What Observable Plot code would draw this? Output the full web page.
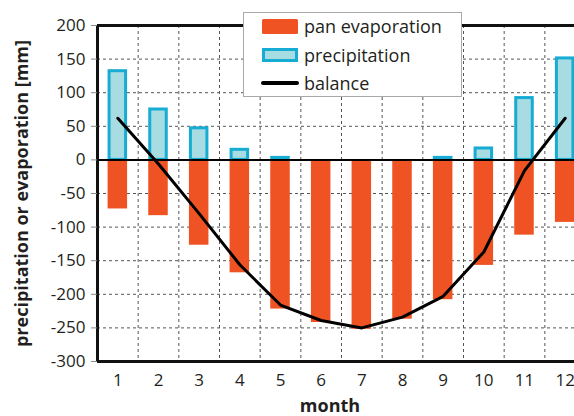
<!DOCTYPE html>
<html>
<head>
<meta charset="utf-8">
<script src="https://cdn.jsdelivr.net/npm/d3@7"></script>
<script src="https://cdn.jsdelivr.net/npm/@observablehq/plot@0.6"></script>
<style>
  html, body { margin: 0; padding: 0; background: #fff; overflow: hidden; }
  #wrap { position: relative; width: 574px; height: 416px; }
  #legend { position: absolute; left: 0; top: 0; }
</style>
</head>
<body>
<div id="wrap"></div>
<script>
const months = [1, 2, 3, 4, 5, 6, 7, 8, 9, 10, 11, 12];
const evaporation = [73, 83, 127, 168, 222, 242, 252, 237, 208, 157, 112, 93];
const precipitation = [132, 75, 47, 15, 3, 0, 0, 0, 3, 17, 92, 151];
const balance = [62, -6, -80, -156, -216, -239, -250, -234, -203, -137, -16, 62];
const yTicks = [-300, -250, -200, -150, -100, -50, 0, 50, 100, 150, 200];
const legendLabels = ["pan evaporation", "precipitation", "balance"];

const ORANGE = "#f05323";
const CYAN_FILL = "#a7dce3";
const CYAN_STROKE = "#17acd3";
const TEXT = "#231f20";

const data = months.map((m, i) => ({
  month: m,
  evap: -evaporation[i],
  precip: precipitation[i],
  balance: balance[i]
}));
const half = 0.24;
const gridX = months.slice(0, -1).map(m => m + 0.5);

const chart = Plot.plot({
  width: 574,
  height: 416,
  marginLeft: 97,
  marginRight: 0,
  marginTop: 25,
  marginBottom: 55,
  style: {fontFamily: "Open Sans", fontSize: "17px", color: TEXT, background: "#fff"},
  x: {domain: [0.5, 12.5], range: [97, 585]},
  y: {domain: [-300, 200]},
  marks: [
    Plot.ruleY(yTicks.filter(v => v !== 0 && v !== 200 && v !== -300), {stroke: "#555", strokeWidth: 1, strokeDasharray: "3,3"}),
    Plot.ruleX(gridX, {stroke: "#555", strokeWidth: 1, strokeDasharray: "3,3"}),
    Plot.rectY(data.filter(d => d.precip > 0), {
      x1: d => d.month - half, x2: d => d.month + half, y1: 0, y2: "precip",
      fill: CYAN_FILL, stroke: CYAN_STROKE, strokeWidth: 3, insetLeft: 1.5, insetRight: 1.5
    }),
    Plot.rectY(data, {
      x1: d => d.month - half, x2: d => d.month + half, y1: 0, y2: "evap",
      fill: ORANGE
    }),
    Plot.ruleY([0], {stroke: "#000", strokeWidth: 2}),
    Plot.ruleY([200], {stroke: "#111", strokeWidth: 3}),
    Plot.ruleY([-300], {stroke: "#111", strokeWidth: 3}),
    Plot.ruleX([0.5], {stroke: "#111", strokeWidth: 3}),
    Plot.line(data, {x: "month", y: "balance", stroke: "#000", strokeWidth: 3, strokeLinejoin: "round"}),
    Plot.axisY({ticks: yTicks, tickFormat: d => String(d), tickSize: 6, tickPadding: 6, stroke: "#888", label: null, fontSize: 17}),
    Plot.axisX({ticks: months, tickFormat: d => String(d), tickSize: 0, tickPadding: 12, label: null, fontSize: 17}),
    Plot.text(["precipitation or evaporation [mm]"], {
      frameAnchor: "left", dx: -70, rotate: -90, textAnchor: "middle", lineAnchor: "bottom",
      fontWeight: "bold", fontSize: 18, fill: TEXT
    }),
    Plot.text(["month"], {
      frameAnchor: "bottom", dy: 50, textAnchor: "middle", lineAnchor: "bottom",
      fontWeight: "bold", fontSize: 18, fill: TEXT, dx: -6
    })
  ]
});

const wrap = document.getElementById("wrap");
wrap.appendChild(chart);

// Legend overlay
const leg = d3.create("svg").attr("id", "legend").attr("width", 574).attr("height", 110)
  .style("font-family", "Open Sans").style("font-size", "18px");
leg.append("rect").attr("x", 243.5).attr("y", 12.5).attr("width", 218).attr("height", 84)
  .attr("fill", "#fff").attr("stroke", "#aaa").attr("stroke-width", 1);
leg.append("rect").attr("x", 262).attr("y", 19).attr("width", 36).attr("height", 15).attr("rx", 1.5).attr("fill", ORANGE);
leg.append("rect").attr("x", 263.5).attr("y", 49.5).attr("width", 33).attr("height", 11).attr("fill", CYAN_FILL)
  .attr("stroke", CYAN_STROKE).attr("stroke-width", 3);
leg.append("line").attr("x1", 263).attr("x2", 297).attr("y1", 83).attr("y2", 83)
  .attr("stroke", "#000").attr("stroke-width", 4).attr("stroke-linecap", "round");
const baselines = [33, 62, 90];
legendLabels.forEach((t, i) => {
  leg.append("text").attr("x", 304).attr("y", baselines[i]).attr("fill", TEXT).text(t);
});
wrap.appendChild(leg.node());
</script>
</body>
</html>
